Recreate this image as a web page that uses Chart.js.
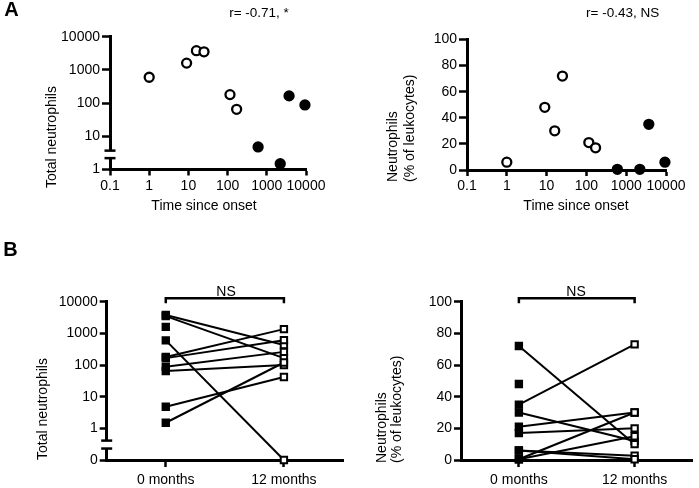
<!DOCTYPE html>
<html>
<head>
<meta charset="utf-8">
<script src="https://cdn.jsdelivr.net/npm/chart.js@4/dist/chart.umd.min.js"></script>
<style>
  html, body { margin: 0; padding: 0; background: #fff; }
  body { width: 699px; height: 488px; position: relative; overflow: hidden; }
  canvas { position: absolute; }
</style>
</head>
<body>
<canvas id="cA1" width="345" height="230" style="left:0px;top:0px;width:345px;height:230px"></canvas>
<canvas id="cA2" width="354" height="230" style="left:345px;top:0px;width:354px;height:230px"></canvas>
<canvas id="cB1" width="350" height="258" style="left:0px;top:230px;width:350px;height:258px"></canvas>
<canvas id="cB2" width="349" height="258" style="left:350px;top:230px;width:349px;height:258px"></canvas>
<script>
// ---------------- DATA ----------------
// Panel A: one entry per patient
const onsetTimes        = [1, 9, 16, 25, 115, 170, 600, 2200, 3700, 9400];
const openMarker        = [true, true, true, true, true, true, false, false, false, false];
const totalNeutrophils  = [600, 1600, 3800, 3500, 180, 65, 4.8, 1.5, 165, 88];
const pctNeutrophils    = [6, 48, 30, 72, 21, 17, 0.5, 0.5, 35, 6];
// Panel B: same patients, baseline vs 12 months (null = no follow-up)
const monthLabels       = ['0 months', '12 months'];
const total12Months     = [0, null, 430, 165, 1360, 100, 42, 120, 610, 260];
const pct12Months       = [2.7, null, 12, 10, 30, 20, 30, 15, 73, 0.5];
// Tick labels
const totalTicksA       = [1, 10, 100, 1000, 10000];
const totalTicksB       = [0.1, 1, 10, 100, 1000, 10000]; // floor tick is labelled "0"
const timeTicks         = [0.1, 1, 10, 100, 1000, 10000];
const pctTicks          = [0, 20, 40, 60, 80, 100];
// Annotations
const corrLabels        = ['r= -0.71, *', 'r= -0.43, NS'];
const testLabel         = 'NS';

// ---------------- SETUP ----------------
const FONT = "'Liberation Sans', Arial, Helvetica, sans-serif";
Chart.defaults.font.family = FONT;
Chart.defaults.font.size = 14;
Chart.defaults.color = '#000';
Chart.defaults.animation = false;
Chart.defaults.plugins.legend.display = false;
Chart.defaults.plugins.tooltip.enabled = false;

const LOG_ZERO = 0.1;                       // zero is drawn at the floor of a log axis
const logSafe = v => (v === 0 ? LOG_ZERO : v);

const annotPlugin = {
  id: 'annot',
  beforeDatasetsDraw(chart, args, opts) {
    const ctx = chart.ctx;
    const s = chart.scales.y;
    (opts.breaks || []).forEach(b => {
      const x = chart.chartArea.left;
      const y1 = s.getPixelForValue(b.from), y2 = s.getPixelForValue(b.to);
      ctx.save();
      ctx.fillStyle = '#fff';
      ctx.fillRect(x - 3, Math.min(y1, y2), 6, Math.abs(y1 - y2));
      ctx.strokeStyle = '#000';
      ctx.lineWidth = 2.5;
      [y1, y2].forEach(y => {
        ctx.beginPath(); ctx.moveTo(x - 5.5, y); ctx.lineTo(x + 5.5, y); ctx.stroke();
      });
      ctx.restore();
    });
  },
  afterDraw(chart, args, opts) {
    const ctx = chart.ctx;
    if (opts.bracket) {
      const xs = chart.scales.x;
      const x0 = xs.getPixelForValue(0), x1 = xs.getPixelForValue(1);
      const y = opts.bracket.y, d = opts.bracket.drop;
      ctx.save();
      ctx.strokeStyle = '#000'; ctx.lineWidth = 2.5; ctx.lineJoin = 'miter';
      ctx.beginPath();
      ctx.moveTo(x0, y + d); ctx.lineTo(x0, y); ctx.lineTo(x1, y); ctx.lineTo(x1, y + d);
      ctx.stroke();
      ctx.restore();
    }
    (opts.texts || []).forEach(t => {
      ctx.save();
      ctx.fillStyle = '#000';
      ctx.font = (t.bold ? 'bold ' : '') + (t.size || 14) + 'px ' + FONT;
      ctx.textBaseline = 'middle';
      ctx.textAlign = t.align || 'center';
      ctx.translate(t.x, t.y);
      if (t.rot) ctx.rotate(-Math.PI / 2);
      ctx.fillText(t.text, 0, 0);
      ctx.restore();
    });
  }
};

function axis(extra, tickLength, padding) {
  return Object.assign({
    border: { display: true, color: '#000', width: 3 },
    grid: { display: true, drawOnChartArea: false, drawTicks: true, tickLength: tickLength,
            tickWidth: 2.5, tickColor: '#000', color: '#000' },
  }, extra, {
    ticks: Object.assign({ padding: padding, autoSkip: false, maxRotation: 0, minRotation: 0,
                           color: '#000', font: { size: 14 } }, extra.ticks || {})
  });
}
const fixedTicks = list => scale => { scale.ticks = list.map(v => ({ value: v })); };

// ---------------- PANEL A ----------------
function scatterChart(id, yValues, yScale, pad, yWidth, xHeight, annot) {
  const pts = onsetTimes.map((t, i) => ({ x: t, y: yValues[i] }));
  return new Chart(document.getElementById(id), {
    type: 'scatter',
    data: { datasets: [{
      data: pts,
      pointRadius: 4.5,
      pointBorderWidth: 2.3,
      pointBorderColor: '#000',
      pointBackgroundColor: openMarker.map(o => (o ? '#fff' : '#000')),
      clip: false
    }]},
    options: {
      responsive: false,
      layout: { padding: pad },
      scales: {
        x: axis({ type: 'logarithmic', min: 0.1, max: 10000,
                  afterBuildTicks: fixedTicks(timeTicks),
                  afterFit: s => { s.height = xHeight; },
                  ticks: { callback: v => String(v) } }, 6, 2),
        y: axis(Object.assign({ afterFit: s => { s.width = yWidth; } }, yScale), 8, 2)
      },
      plugins: { annot: annot }
    },
    plugins: [annotPlugin]
  });
}

scatterChart('cA1', totalNeutrophils,
  { type: 'logarithmic', min: 1, max: 10000, afterBuildTicks: fixedTicks(totalTicksA),
    ticks: { callback: v => String(v) } },
  { left: 0, right: 39, top: 36.7, bottom: 0 }, 110, 60.5,
  { breaks: [{ from: 2.2, to: 3.7 }],
    texts: [
      { text: 'A', x: 11.5, y: 10.5, bold: true, size: 20 },
      { text: corrLabels[0], x: 259, y: 13.5, size: 13.5 },
      { text: 'Total neutrophils', x: 51.7, y: 188, rot: true, align: 'left', size: 14 },
      { text: 'Time since onset', x: 204, y: 206, size: 14 }
    ] });

scatterChart('cA2', pctNeutrophils,
  { type: 'linear', min: 0, max: 100, afterBuildTicks: fixedTicks(pctTicks) },
  { left: 0, right: 33, top: 39.5, bottom: 0 }, 122, 60,
  { texts: [
      { text: corrLabels[1], x: 277.7, y: 13.5, size: 13.5 },
      { text: 'Neutrophils', x: 48.3, y: 182, rot: true, align: 'left', size: 14 },
      { text: '(% of leukocytes)', x: 65, y: 182, rot: true, align: 'left', size: 14 },
      { text: 'Time since onset', x: 231, y: 206, size: 14 }
    ] });

// ---------------- PANEL B ----------------
function pairedChart(id, v0, v12, toPlot, yScale, pad, yWidth, annot) {
  const lines = v0.map((a, i) => ({
    data: [toPlot(a), v12[i] == null ? null : toPlot(v12[i])],
    borderColor: '#000', borderWidth: 2, pointRadius: 0, order: 1, clip: false
  }));
  const pts0 = {
    data: v0.map(v => ({ x: monthLabels[0], y: toPlot(v) })),
    showLine: false, pointStyle: 'rect', pointRadius: 4.5, pointBorderWidth: 2,
    pointBorderColor: '#000', pointBackgroundColor: '#000', order: 0, clip: false
  };
  const pts12 = {
    data: v12.filter(v => v != null).map(v => ({ x: monthLabels[1], y: toPlot(v) })),
    showLine: false, pointStyle: 'rect', pointRadius: 4.5, pointBorderWidth: 2,
    pointBorderColor: '#000', pointBackgroundColor: '#fff', order: 0, clip: false
  };
  return new Chart(document.getElementById(id), {
    type: 'line',
    data: { labels: monthLabels, datasets: lines.concat([pts0, pts12]) },
    options: {
      responsive: false,
      layout: { padding: pad },
      scales: {
        x: axis({ type: 'category', offset: true,
                  afterFit: s => { s.height = 28; } }, 7, 5),
        y: axis(Object.assign({ afterFit: s => { s.width = yWidth; } }, yScale), 7, 2)
      },
      plugins: { annot: annot }
    },
    plugins: [annotPlugin]
  });
}

pairedChart('cB1', totalNeutrophils, total12Months, logSafe,
  { type: 'logarithmic', min: 0.1, max: 10000, afterBuildTicks: fixedTicks(totalTicksB),
    ticks: { callback: v => (v === LOG_ZERO ? '0' : String(v)) } },
  { left: 0, right: 7, top: 71.7, bottom: 0 }, 106.7,
  { breaks: [{ from: 0.23, to: 0.41 }],
    bracket: { y: 68.3, drop: 5 },
    texts: [
      { text: 'B', x: 10.5, y: 20, bold: true, size: 20 },
      { text: testLabel, x: 226, y: 61.7, size: 14 },
      { text: 'Total neutrophils', x: 43.3, y: 230, rot: true, align: 'left', size: 14 }
    ] });

pairedChart('cB2', pctNeutrophils, pct12Months, v => v,
  { type: 'linear', min: 0, max: 100, afterBuildTicks: fixedTicks(pctTicks) },
  { left: 0, right: 2, top: 71.7, bottom: 0 }, 111,
  { bracket: { y: 68.3, drop: 5 },
    texts: [
      { text: testLabel, x: 226, y: 61.7, size: 14 },
      { text: 'Neutrophils', x: 31.7, y: 233, rot: true, align: 'left', size: 14 },
      { text: '(% of leukocytes)', x: 46.7, y: 233, rot: true, align: 'left', size: 14 }
    ] });
</script>
</body>
</html>
